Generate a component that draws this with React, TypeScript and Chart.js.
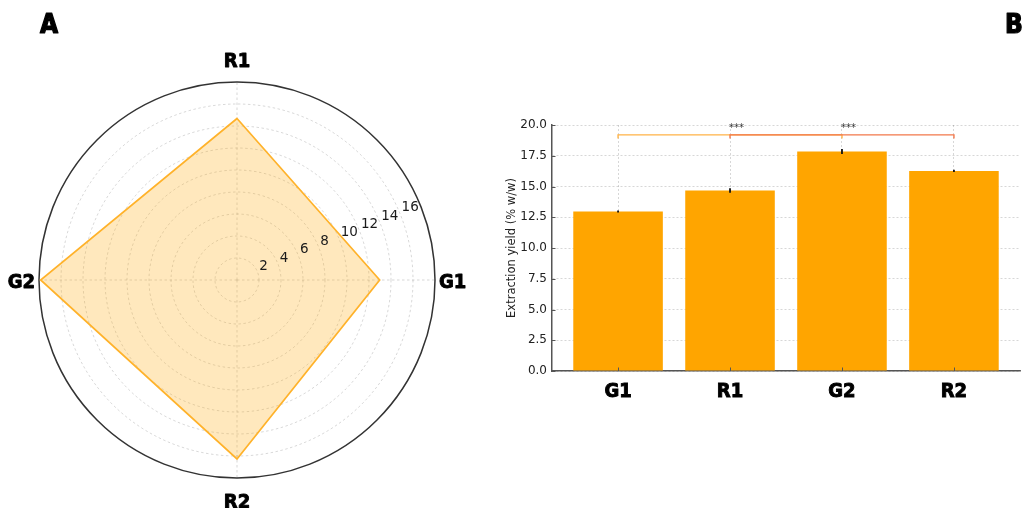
import React, { useEffect, useRef } from 'react';
import { Chart, registerables } from 'chart.js';

Chart.register(...registerables);

// ---------- data ----------
const categories = ['G1', 'R1', 'G2', 'R2'];
const yieldValues = [12.97, 14.68, 17.85, 16.27];
const yieldErrors = [0.08, 0.18, 0.2, 0.1];
const radarOrder = ['R1', 'G1', 'R2', 'G2'];
const radarTicks = [2, 4, 6, 8, 10, 12, 14, 16];
const radarMax = 18;
const yTicks = [0, 2.5, 5, 7.5, 10, 12.5, 15, 17.5, 20];
const yAxisTitle = 'Extraction yield (% w/w)';
const brackets = [
  { from: 'G1', to: 'G2', y: 19.2, color: '#FFB347', label: '***' },
  { from: 'R1', to: 'R2', y: 19.2, color: '#F2784B', label: '***' },
];
const panelLabels = ['A', 'B'];

const BOLD_FONT = "'Liberation Sans Narrow', 'DejaVu Sans Condensed', Roboto, sans-serif";
const PLAIN_FONT = "'DejaVu Sans', sans-serif";
const GRID = 'rgba(0,0,0,0.2)';

function heavyText(ctx: any, text: string, x: number, y: number, w = 0.9) {
  ctx.lineWidth = w;
  ctx.strokeStyle = ctx.fillStyle;
  ctx.lineJoin = 'round';
  ctx.strokeText(text, x, y);
  ctx.fillText(text, x, y);
}

const radarDecor = {
  id: 'radarDecor',
  afterDraw(chart: any) {
    const ctx = chart.ctx;
    const r = chart.scales.r;
    const cx = r.xCenter;
    const cy = r.yCenter;
    ctx.save();
    // radial tick labels at 22.5°
    ctx.font = `13.5px ${PLAIN_FONT}`;
    ctx.fillStyle = '#1a1a1a';
    ctx.textAlign = 'left';
    ctx.textBaseline = 'alphabetic';
    const a = (22.5 * Math.PI) / 180;
    radarTicks.forEach((v) => {
      const d = r.getDistanceFromCenterForValue(v);
      ctx.fillText(String(v), cx + d * Math.cos(a) + 2, cy - d * Math.sin(a) - 1.5);
    });
    // category labels
    ctx.font = `bold 20px ${BOLD_FONT}`;
    ctx.fillStyle = '#000';
    ctx.textAlign = 'center';
    const R = r.drawingArea;
    const capH = 15;
    radarOrder.forEach((lab, i) => {
      const ang = r.getIndexAngle(i) - Math.PI / 2;
      const c = Math.cos(ang);
      const s = Math.sin(ang);
      const w = ctx.measureText(lab).width;
      const dist = R + Math.abs(c) * (4 + w / 2) + Math.abs(s) * (15 + capH / 2);
      heavyText(ctx, lab, cx + dist * c, cy + dist * s + capH / 2);
    });
    // panel letter
    ctx.font = `bold 26px ${BOLD_FONT}`;
    ctx.textAlign = 'left';
    heavyText(ctx, panelLabels[0], 40, 33, 1.2);
    ctx.restore();
  },
};

const barDecor = {
  id: 'barDecor',
  afterDraw(chart: any) {
    const { ctx, chartArea } = chart;
    const x = chart.scales.x;
    const y = chart.scales.y;
    ctx.save();
    // inward ticks
    ctx.strokeStyle = '#555';
    ctx.lineWidth = 1;
    yTicks.forEach((v) => {
      const py = Math.round(y.getPixelForValue(v)) + 0.5;
      ctx.beginPath();
      ctx.moveTo(chartArea.left, py);
      ctx.lineTo(chartArea.left + 3.5, py);
      ctx.stroke();
    });
    categories.forEach((_, i) => {
      const px = Math.round(x.getPixelForValue(i)) + 0.5;
      ctx.beginPath();
      ctx.moveTo(px, chartArea.bottom);
      ctx.lineTo(px, chartArea.bottom - 3.5);
      ctx.stroke();
    });
    // error bars
    ctx.strokeStyle = '#111';
    ctx.lineWidth = 1.8;
    yieldValues.forEach((v, i) => {
      const px = x.getPixelForValue(i);
      ctx.beginPath();
      ctx.moveTo(px, y.getPixelForValue(v - yieldErrors[i]));
      ctx.lineTo(px, y.getPixelForValue(v + yieldErrors[i]));
      ctx.stroke();
    });
    // significance brackets
    brackets.forEach((b) => {
      const x1 = x.getPixelForValue(categories.indexOf(b.from));
      const x2 = x.getPixelForValue(categories.indexOf(b.to));
      const yy = y.getPixelForValue(b.y);
      const yt = y.getPixelForValue(b.y - 0.3);
      ctx.strokeStyle = b.color;
      ctx.lineWidth = 1.4;
      ctx.beginPath();
      ctx.moveTo(x1, yt);
      ctx.lineTo(x1, yy);
      ctx.lineTo(x2, yy);
      ctx.lineTo(x2, yt);
      ctx.stroke();
      ctx.fillStyle = '#333';
      ctx.font = `10px ${PLAIN_FONT}`;
      ctx.textAlign = 'left';
      ctx.textBaseline = 'alphabetic';
      ctx.fillText(b.label, (x1 + x2) / 2 - 1, yy - 4);
    });
    // panel letter
    ctx.fillStyle = '#000';
    ctx.font = `bold 26px ${BOLD_FONT}`;
    ctx.textAlign = 'left';
    heavyText(ctx, panelLabels[1], 1005 - 490, 33, 1.2);
    ctx.restore();
  },
};

export default function App() {
  const radarRef = useRef<HTMLCanvasElement>(null);
  const barRef = useRef<HTMLCanvasElement>(null);

  useEffect(() => {
    document.body.style.margin = '0';
    const radarValues = radarOrder.map((c) => yieldValues[categories.indexOf(c)]);

    const radar = new Chart(radarRef.current as HTMLCanvasElement, {
      type: 'radar',
      data: {
        labels: radarOrder,
        datasets: [
          {
            data: radarValues,
            fill: true,
            backgroundColor: 'rgba(255,165,0,0.26)',
            borderColor: '#FFB22A',
            borderWidth: 1.7,
            pointRadius: 0,
            tension: 0,
          },
        ],
      },
      options: {
        animation: false,
        responsive: false,
        layout: { padding: { left: 39, right: 45, top: 82, bottom: 30 } },
        plugins: { legend: { display: false }, tooltip: { enabled: false } },
        scales: {
          r: {
            min: 0,
            max: radarMax,
            startAngle: 0,
            ticks: { stepSize: 2, display: false },
            pointLabels: { display: false },
            grid: {
              circular: true,
              color: (c: any) => (c.tick && c.tick.value === radarMax ? '#333' : GRID),
              lineWidth: (c: any) => (c.tick && c.tick.value === radarMax ? 1.5 : 0.8),
            },
            border: {
              dash: (c: any) => (c.tick && c.tick.value === radarMax ? [] : [2.5, 2.5]),
            },
            angleLines: { display: true, color: GRID, lineWidth: 0.8, borderDash: [2.5, 2.5] },
          },
        },
      } as any,
      plugins: [radarDecor],
    } as any);

    const barData = categories.map((_, i) => ({ x: i, y: yieldValues[i] }));
    const bar = new Chart(barRef.current as HTMLCanvasElement, {
      type: 'bar',
      data: {
        datasets: [
          {
            data: barData,
            backgroundColor: '#FFA500',
            borderWidth: 0,
            barPercentage: 0.8,
            categoryPercentage: 1,
          },
        ],
      },
      options: {
        animation: false,
        responsive: false,
        layout: { padding: { left: 0, right: 2, top: 125, bottom: 0 } },
        plugins: { legend: { display: false }, tooltip: { enabled: false } },
        scales: {
          x: {
            type: 'linear',
            min: -0.59,
            max: 3.59,
            offset: false,
            afterBuildTicks: (s: any) => {
              s.ticks = categories.map((_, i) => ({ value: i }));
            },
            afterFit: (s: any) => {
              s.height = 137;
            },
            ticks: {
              callback: (v: any) => categories[v],
              font: { family: BOLD_FONT, size: 20, weight: 'bold' },
              color: '#000',
              textStrokeColor: '#000',
              textStrokeWidth: 0.9,
              padding: 9,
              maxRotation: 0,
              autoSkip: false,
            },
            grid: { offset: false, color: GRID, lineWidth: 0.8, drawTicks: false },
            border: { color: '#555', width: 1.5, dash: [2, 2] },
          },
          y: {
            min: 0,
            max: 20,
            afterBuildTicks: (s: any) => {
              s.ticks = yTicks.map((v) => ({ value: v }));
            },
            afterFit: (s: any) => {
              s.width = 62;
            },
            ticks: {
              callback: (v: any) => Number(v).toFixed(1),
              font: { family: PLAIN_FONT, size: 12 },
              color: '#222',
              padding: 5,
            },
            grid: { color: GRID, lineWidth: 0.8, drawTicks: false },
            border: { color: '#555', width: 1.5, dash: [2, 2] },
            title: {
              display: true,
              text: yAxisTitle,
              font: { family: PLAIN_FONT, size: 11.5 },
              color: '#222',
              padding: { top: 15.5, bottom: 0 },
            },
          },
        },
      } as any,
      plugins: [barDecor],
    } as any);

    return () => {
      radar.destroy();
      bar.destroy();
    };
  }, []);

  return (
    <div style={{ position: 'absolute', left: 0, top: 0, width: 1022, height: 508, background: '#fff' }}>
      <canvas
        ref={radarRef}
        width={480}
        height={508}
        style={{ position: 'absolute', left: 0, top: 0, width: 480, height: 508 }}
      />
      <canvas
        ref={barRef}
        width={532}
        height={508}
        style={{ position: 'absolute', left: 490, top: 0, width: 532, height: 508 }}
      />
    </div>
  );
}
